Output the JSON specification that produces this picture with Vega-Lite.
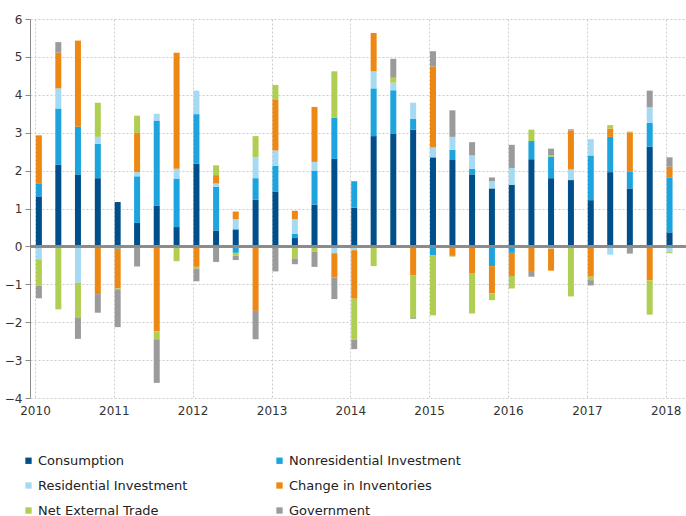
{
  "$schema": "https://vega.github.io/schema/vega-lite/v6.json",
  "width": 656,
  "height": 379,
  "autosize": {"type": "none"},
  "padding": {"left": 30, "top": 19, "right": 0, "bottom": 118},
  "background": "white",
  "config": {
    "view": {"stroke": null},
    "font": "DejaVu Sans",
    "axis": {"labelFont": "DejaVu Sans", "labelFontSize": 12, "labelColor": "#333333"},
    "axisY": {
      "title": null, "values": [-4, -3, -2, -1, 0, 1, 2, 3, 4, 5, 6],
      "labelOverlap": false,
      "domain": true, "domainColor": "#8a8a8a", "ticks": true, "tickColor": "#8a8a8a", "tickSize": 5,
      "labelPadding": 3,
      "grid": true, "gridColor": "#cccccc", "gridDash": [2, 2], "gridWidth": 1
    }
  },
  "data": {
    "values": [
      {"q": "2010-01-19", "Consumption": 1.32, "Nonresidential Investment": 0.33, "Residential Investment": -0.34, "Change in Inventories": 1.28, "Net External Trade": -0.70, "Government": -0.33},
      {"q": "2010-04-19", "Consumption": 2.16, "Nonresidential Investment": 1.48, "Residential Investment": 0.53, "Change in Inventories": 0.94, "Net External Trade": -1.66, "Government": 0.28},
      {"q": "2010-07-19", "Consumption": 1.90, "Nonresidential Investment": 1.26, "Residential Investment": -0.96, "Change in Inventories": 2.27, "Net External Trade": -0.93, "Government": -0.55},
      {"q": "2010-10-19", "Consumption": 1.80, "Nonresidential Investment": 0.91, "Residential Investment": 0.18, "Change in Inventories": -1.26, "Net External Trade": 0.90, "Government": -0.49},
      {"q": "2011-01-19", "Consumption": 1.17, "Nonresidential Investment": -0.06, "Residential Investment": 0.0, "Change in Inventories": -1.05, "Net External Trade": -0.02, "Government": -1.00},
      {"q": "2011-04-19", "Consumption": 0.62, "Nonresidential Investment": 1.23, "Residential Investment": 0.11, "Change in Inventories": 1.03, "Net External Trade": 0.46, "Government": -0.53},
      {"q": "2011-07-19", "Consumption": 1.07, "Nonresidential Investment": 2.25, "Residential Investment": 0.18, "Change in Inventories": -2.24, "Net External Trade": -0.21, "Government": -1.15},
      {"q": "2011-10-19", "Consumption": 0.51, "Nonresidential Investment": 1.28, "Residential Investment": 0.26, "Change in Inventories": 3.06, "Net External Trade": -0.39, "Government": 0.0},
      {"q": "2012-01-19", "Consumption": 2.18, "Nonresidential Investment": 1.31, "Residential Investment": 0.62, "Change in Inventories": -0.54, "Net External Trade": -0.05, "Government": -0.33},
      {"q": "2012-04-19", "Consumption": 0.42, "Nonresidential Investment": 1.15, "Residential Investment": 0.09, "Change in Inventories": 0.22, "Net External Trade": 0.26, "Government": -0.41},
      {"q": "2012-07-19", "Consumption": 0.45, "Nonresidential Investment": -0.17, "Residential Investment": 0.27, "Change in Inventories": 0.20, "Net External Trade": -0.08, "Government": -0.11},
      {"q": "2012-10-19", "Consumption": 1.23, "Nonresidential Investment": 0.57, "Residential Investment": 0.55, "Change in Inventories": -1.70, "Net External Trade": 0.56, "Government": -0.75},
      {"q": "2013-01-19", "Consumption": 1.45, "Nonresidential Investment": 0.68, "Residential Investment": 0.40, "Change in Inventories": 1.35, "Net External Trade": 0.38, "Government": -0.66},
      {"q": "2013-04-19", "Consumption": 0.22, "Nonresidential Investment": 0.11, "Residential Investment": 0.39, "Change in Inventories": 0.22, "Net External Trade": -0.32, "Government": -0.15},
      {"q": "2013-07-19", "Consumption": 1.10, "Nonresidential Investment": 0.90, "Residential Investment": 0.23, "Change in Inventories": 1.45, "Net External Trade": -0.14, "Government": -0.40},
      {"q": "2013-10-19", "Consumption": 2.31, "Nonresidential Investment": 1.08, "Residential Investment": -0.18, "Change in Inventories": -0.64, "Net External Trade": 1.23, "Government": -0.57},
      {"q": "2014-01-19", "Consumption": 1.02, "Nonresidential Investment": 0.70, "Residential Investment": -0.10, "Change in Inventories": -1.28, "Net External Trade": -1.08, "Government": -0.25},
      {"q": "2014-04-19", "Consumption": 2.91, "Nonresidential Investment": 1.26, "Residential Investment": 0.45, "Change in Inventories": 1.01, "Net External Trade": -0.52, "Government": 0.0},
      {"q": "2014-07-19", "Consumption": 2.98, "Nonresidential Investment": 1.14, "Residential Investment": 0.20, "Change in Inventories": -0.04, "Net External Trade": 0.13, "Government": 0.50},
      {"q": "2014-10-19", "Consumption": 3.08, "Nonresidential Investment": 0.29, "Residential Investment": 0.42, "Change in Inventories": -0.77, "Net External Trade": -1.10, "Government": -0.04},
      {"q": "2015-01-19", "Consumption": 2.35, "Nonresidential Investment": -0.24, "Residential Investment": 0.26, "Change in Inventories": 2.14, "Net External Trade": -1.58, "Government": 0.40},
      {"q": "2015-04-19", "Consumption": 2.28, "Nonresidential Investment": 0.27, "Residential Investment": 0.34, "Change in Inventories": -0.25, "Net External Trade": -0.02, "Government": 0.70},
      {"q": "2015-07-19", "Consumption": 1.90, "Nonresidential Investment": 0.15, "Residential Investment": 0.35, "Change in Inventories": -0.72, "Net External Trade": -1.05, "Government": 0.35},
      {"q": "2015-10-19", "Consumption": 1.53, "Nonresidential Investment": -0.52, "Residential Investment": 0.19, "Change in Inventories": -0.72, "Net External Trade": -0.18, "Government": 0.10},
      {"q": "2016-01-19", "Consumption": 1.62, "Nonresidential Investment": -0.17, "Residential Investment": 0.45, "Change in Inventories": -0.61, "Net External Trade": -0.33, "Government": 0.61},
      {"q": "2016-04-19", "Consumption": 2.30, "Nonresidential Investment": 0.48, "Residential Investment": 0.0, "Change in Inventories": -0.65, "Net External Trade": 0.30, "Government": -0.15},
      {"q": "2016-07-19", "Consumption": 1.80, "Nonresidential Investment": 0.57, "Residential Investment": -0.06, "Change in Inventories": -0.58, "Net External Trade": 0.04, "Government": 0.17},
      {"q": "2016-10-19", "Consumption": 1.75, "Nonresidential Investment": 0.0, "Residential Investment": 0.28, "Change in Inventories": 1.03, "Net External Trade": -1.32, "Government": 0.03},
      {"q": "2017-01-19", "Consumption": 1.22, "Nonresidential Investment": 1.18, "Residential Investment": 0.43, "Change in Inventories": -0.80, "Net External Trade": -0.09, "Government": -0.14},
      {"q": "2017-04-19", "Consumption": 1.96, "Nonresidential Investment": 0.93, "Residential Investment": -0.22, "Change in Inventories": 0.22, "Net External Trade": 0.09, "Government": 0.0},
      {"q": "2017-07-19", "Consumption": 1.53, "Nonresidential Investment": 0.44, "Residential Investment": 0.0, "Change in Inventories": 1.04, "Net External Trade": 0.02, "Government": -0.19},
      {"q": "2017-10-19", "Consumption": 2.63, "Nonresidential Investment": 0.63, "Residential Investment": 0.41, "Change in Inventories": -0.90, "Net External Trade": -0.90, "Government": 0.44},
      {"q": "2018-01-19", "Consumption": 0.37, "Nonresidential Investment": 1.45, "Residential Investment": -0.15, "Change in Inventories": 0.28, "Net External Trade": -0.03, "Government": 0.25}
    ]
  },
  "layer": [
    {
      "transform": [
        {"fold": ["Consumption", "Nonresidential Investment", "Residential Investment", "Change in Inventories", "Net External Trade", "Government"], "as": ["series", "value"]},
        {"calculate": "indexof(['Consumption', 'Nonresidential Investment', 'Residential Investment', 'Change in Inventories', 'Net External Trade', 'Government'], datum.series)", "as": "rank"}
      ],
      "mark": {"type": "bar", "width": 6},
      "encoding": {
        "x": {
          "field": "q", "type": "temporal",
          "scale": {"type": "utc", "domain": [{"year": 2010, "month": 1, "date": 1, "utc": true}, {"year": 2018, "month": 3, "date": 13, "utc": true}]},
          "axis": {
            "title": null, "format": "%Y",
            "values": [{"year": 2010, "utc": true}, {"year": 2011, "utc": true}, {"year": 2012, "utc": true}, {"year": 2013, "utc": true}, {"year": 2014, "utc": true}, {"year": 2015, "utc": true}, {"year": 2016, "utc": true}, {"year": 2017, "utc": true}, {"year": 2018, "utc": true}],
            "domain": false, "ticks": false, "labelPadding": 7,
            "grid": true, "gridColor": "#cccccc", "gridDash": [2, 2], "gridWidth": 1,
            "labelFlush": false
          }
        },
        "y": {
          "field": "value", "type": "quantitative", "stack": "zero",
          "scale": {"domain": [-4, 6], "nice": false}
        },
        "color": {
          "field": "series", "type": "nominal",
          "scale": {
            "domain": ["Consumption", "Nonresidential Investment", "Residential Investment", "Change in Inventories", "Net External Trade", "Government"],
            "range": ["#004f8a", "#1ba4dd", "#a6daf3", "#ec8813", "#b0cf52", "#9b9b9b"]
          },
          "legend": {
            "title": null, "orient": "none", "legendX": -8, "legendY": 435,
            "direction": "horizontal",
            "columns": 2, "columnPadding": 85, "rowPadding": 11,
            "symbolType": "square", "symbolSize": 40, "symbolStrokeWidth": 0,
            "labelFont": "DejaVu Sans", "labelFontSize": 13, "labelColor": "#222222", "labelOffset": 3,
            "padding": 0, "labelLimit": 300
          }
        },
        "order": {"field": "rank", "type": "quantitative"}
      }
    },
    {
      "mark": {"type": "rule", "color": "#8a8a8a", "strokeWidth": 1.5},
      "encoding": {"y": {"datum": 0, "type": "quantitative"}}
    }
  ]
}
